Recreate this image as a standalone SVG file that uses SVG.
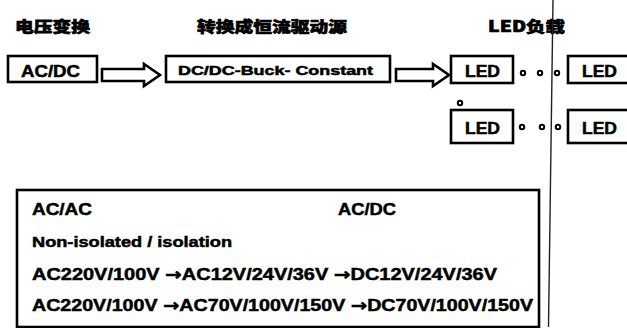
<svg xmlns="http://www.w3.org/2000/svg" width="627" height="328" viewBox="0 0 627 328">
<defs>
<style>
.box{fill:#fff;stroke:#000;stroke-width:2.6}
.harrow{fill:#fff;stroke:#000;stroke-width:2.6;stroke-linejoin:miter}
.hd{font-family:"Noto Sans CJK SC","Liberation Sans",sans-serif;font-weight:900;font-size:15px;fill:#000;stroke:#000;stroke-width:0.6}
.t{font-family:"Liberation Sans",Arial,sans-serif;font-weight:bold;fill:#000;stroke:#000;stroke-width:0.5}
.ar{font-family:"DejaVu Sans",sans-serif;font-weight:bold}
.dot{fill:#fff;stroke:#000;stroke-width:2}
</style>
</defs>
<rect width="627" height="328" fill="#fff"/>
<g id="headings">
<text class="hd" x="15" y="32" textLength="75" lengthAdjust="spacingAndGlyphs">电压变换</text>
<text class="hd" x="197" y="32" textLength="150" lengthAdjust="spacingAndGlyphs">转换成恒流驱动源</text>
<text class="hd" x="488" y="32" textLength="77" lengthAdjust="spacingAndGlyphs">LED负载</text>
</g>
<g id="acdc">
<rect class="box" x="8" y="56" width="89" height="26"/>
<text class="t" x="21" y="77" font-size="17" textLength="59" lengthAdjust="spacingAndGlyphs">AC/DC</text>
</g>
<g id="dcdc">
<rect class="box" x="166" y="56" width="224" height="26"/>
<text class="t" x="178" y="75" font-size="12.5" textLength="195" lengthAdjust="spacingAndGlyphs">DC/DC-Buck- Constant</text>
</g>
<g id="led1">
<rect class="box" x="451" y="56" width="62" height="27"/>
<text class="t" x="465" y="77" font-size="16" textLength="35" lengthAdjust="spacingAndGlyphs">LED</text>
</g>
<g id="led2">
<rect class="box" x="568" y="56" width="70" height="27"/>
<text class="t" x="582" y="77" font-size="16" textLength="35" lengthAdjust="spacingAndGlyphs">LED</text>
</g>
<g id="led3">
<rect class="box" x="451" y="110" width="62" height="33"/>
<text class="t" x="465" y="134" font-size="16" textLength="35" lengthAdjust="spacingAndGlyphs">LED</text>
</g>
<g id="led4">
<rect class="box" x="568" y="110" width="70" height="33"/>
<text class="t" x="582" y="134" font-size="16" textLength="35" lengthAdjust="spacingAndGlyphs">LED</text>
</g>
<g id="connectors">
<path class="harrow" d="M102,69 L144,69 L144,64 L160,75 L144,86 L144,81 L102,81 Z"/>
<path class="harrow" d="M396,69 L433,69 L433,64 L449,75 L433,86 L433,81 L396,81 Z"/>
<circle class="dot" cx="523" cy="73" r="2.2"/>
<circle class="dot" cx="540" cy="73" r="2.2"/>
<circle class="dot" cx="557" cy="73" r="2.2"/>
<circle class="dot" cx="460" cy="103" r="2.2"/>
<circle class="dot" cx="522" cy="127" r="2.2"/>
<circle class="dot" cx="542" cy="127" r="2.2"/>
<circle class="dot" cx="558" cy="127" r="2.2"/>
<line x1="553" y1="0" x2="548.5" y2="327" stroke="#222" stroke-width="1.4"/>
</g>
<g id="summary">
<rect class="box" x="17" y="190" width="522" height="137"/>
<text class="t" x="32" y="215" font-size="17" textLength="60" lengthAdjust="spacingAndGlyphs">AC/AC</text>
<text class="t" x="338" y="215" font-size="17" textLength="58" lengthAdjust="spacingAndGlyphs">AC/DC</text>
<text class="t" x="32" y="247" font-size="15" textLength="200" lengthAdjust="spacingAndGlyphs">Non-isolated / isolation</text>
<text class="t" x="32" y="280" font-size="17" textLength="465" lengthAdjust="spacingAndGlyphs">AC220V/100V <tspan class="ar">→</tspan>AC12V/24V/36V <tspan class="ar">→</tspan>DC12V/24V/36V</text>
<text class="t" x="32" y="311" font-size="17" textLength="501" lengthAdjust="spacingAndGlyphs">AC220V/100V <tspan class="ar">→</tspan>AC70V/100V/150V <tspan class="ar">→</tspan>DC70V/100V/150V</text>
</g>
</svg>
